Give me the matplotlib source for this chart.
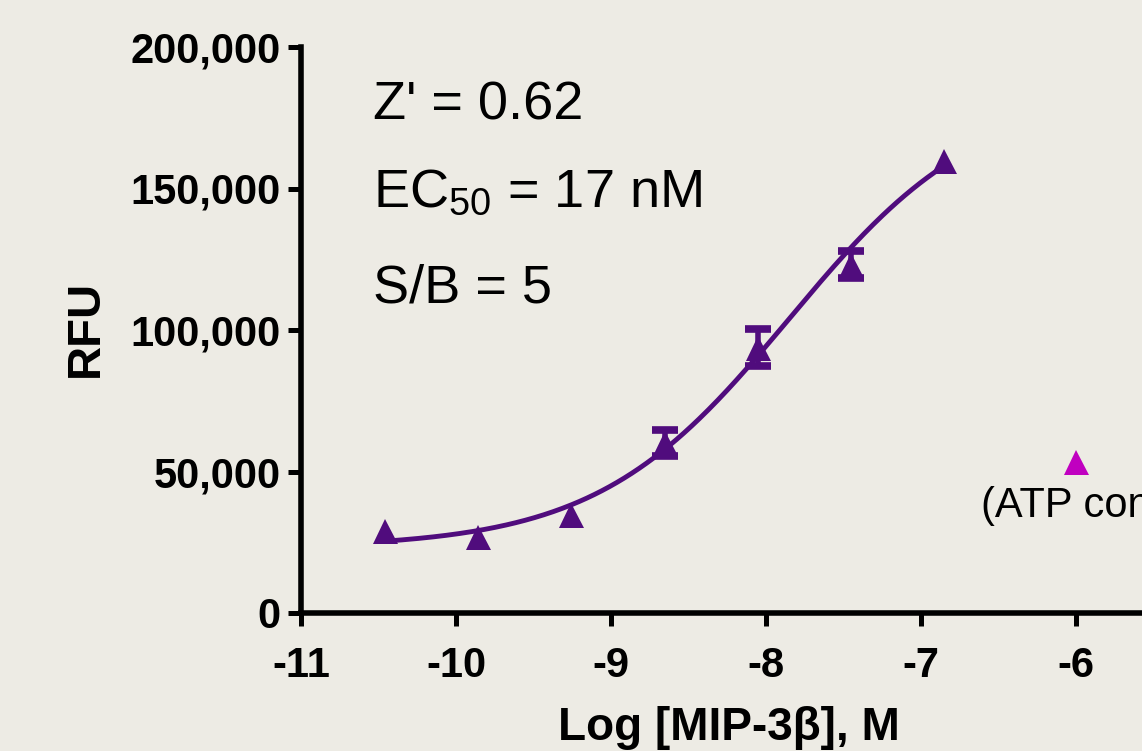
import numpy as np
import matplotlib
matplotlib.use("Agg")
import matplotlib.pyplot as plt

# ---- data ----
log_dose = [-10.46, -9.86, -9.26, -8.65, -8.05, -7.45, -6.85]
rfu_mean = [28800, 26700, 34500, 60000, 93800, 123100, 159700]
rfu_err = [0, 0, 0, 4500, 6500, 4800, 0]
atp_x = [-6.0]
atp_y = [53500]
# 4-parameter logistic fit parameters
fit_bottom = 23000
fit_top = 185000
fit_logec50 = -7.85
fit_hill = 0.70
x_ticks = [-11, -10, -9, -8, -7, -6]
x_tick_labels = ["-11", "-10", "-9", "-8", "-7", "-6"]
y_ticks = [0, 50000, 100000, 150000, 200000]
y_tick_labels = ["0", "50,000", "100,000", "150,000", "200,000"]

BG = "#EDEBE4"
PURPLE = "#500C7D"
MAGENTA = "#C000C0"

plt.rcParams["font.family"] = ["Liberation Sans", "DejaVu Sans"]
plt.rcParams["mathtext.fontset"] = "custom"
plt.rcParams["mathtext.rm"] = "Liberation Sans"
plt.rcParams["mathtext.it"] = "Liberation Sans:italic"
plt.rcParams["mathtext.bf"] = "Liberation Sans:bold"

W, H = 1142, 751
fig = plt.figure(figsize=(W / 100, H / 100), dpi=100, facecolor=BG)
ax = fig.add_axes([301 / W, 1 - 613 / H, 841 / W, 566 / H])
ax.set_facecolor(BG)
ax.set_xlim(-11, -11 + 841 / 155)
ax.set_ylim(0, 200000)

for s in ["top", "right"]:
    ax.spines[s].set_visible(False)
for s in ["left", "bottom"]:
    ax.spines[s].set_linewidth(4.0)
    ax.spines[s].set_color("black")
    ax.spines[s].set_capstyle("projecting")

ax.set_xticks(x_ticks)
ax.set_xticklabels(x_tick_labels)
ax.set_yticks(y_ticks)
ax.set_yticklabels(y_tick_labels)
ax.tick_params(axis="both", direction="out", length=9.5, width=3.6, color="black")
ax.tick_params(axis="x", pad=14, labelsize=30)
ax.tick_params(axis="y", pad=5, labelsize=30)
for lab in ax.get_xticklabels() + ax.get_yticklabels():
    lab.set_fontweight("bold")

# fit curve
xc = np.linspace(min(log_dose), max(log_dose), 300)
yc = fit_bottom + (fit_top - fit_bottom) / (1 + 10 ** ((fit_logec50 - xc) * fit_hill))
ax.plot(xc, yc, color=PURPLE, lw=3.5, zorder=3, solid_capstyle="round")

# error bars
ex = [x for x, e in zip(log_dose, rfu_err) if e > 0]
ey = [y for y, e in zip(rfu_mean, rfu_err) if e > 0]
ee = [e for e in rfu_err if e > 0]
ax.errorbar(ex, ey, yerr=ee, fmt="none", ecolor=PURPLE, elinewidth=4,
            capsize=9.4, capthick=5.5, zorder=4)

# points
ax.plot(log_dose, rfu_mean, linestyle="none", marker="^", ms=18,
        color=PURPLE, mew=0, zorder=5)
ax.plot(atp_x, atp_y, linestyle="none", marker="^", ms=18,
        color=MAGENTA, mew=0, zorder=5)

# annotations
ax.text(-10.535, 174500, "Z' = 0.62", fontsize=39, va="baseline", ha="left")
ax.text(-10.535, 143700, r"EC$_{\mathrm{50}}$ = 17 nM", fontsize=39, va="baseline", ha="left")
ax.text(-10.535, 109700, "S/B = 5", fontsize=39, va="baseline", ha="left")
ax.text(-6.61, 33900, "(ATP control)", fontsize=30, va="baseline", ha="left")

# axis labels
fig.text(729 / W, 1 - 740 / H, "Log [MIP-3\u03b2], M", fontsize=33, fontweight="bold",
         ha="center", va="baseline")
fig.text(86 / W, 1 - 328 / H, "RFU", fontsize=34, fontweight="bold",
         rotation=90, ha="center", va="center")

fig.savefig("out.png", dpi=100, facecolor=BG)
